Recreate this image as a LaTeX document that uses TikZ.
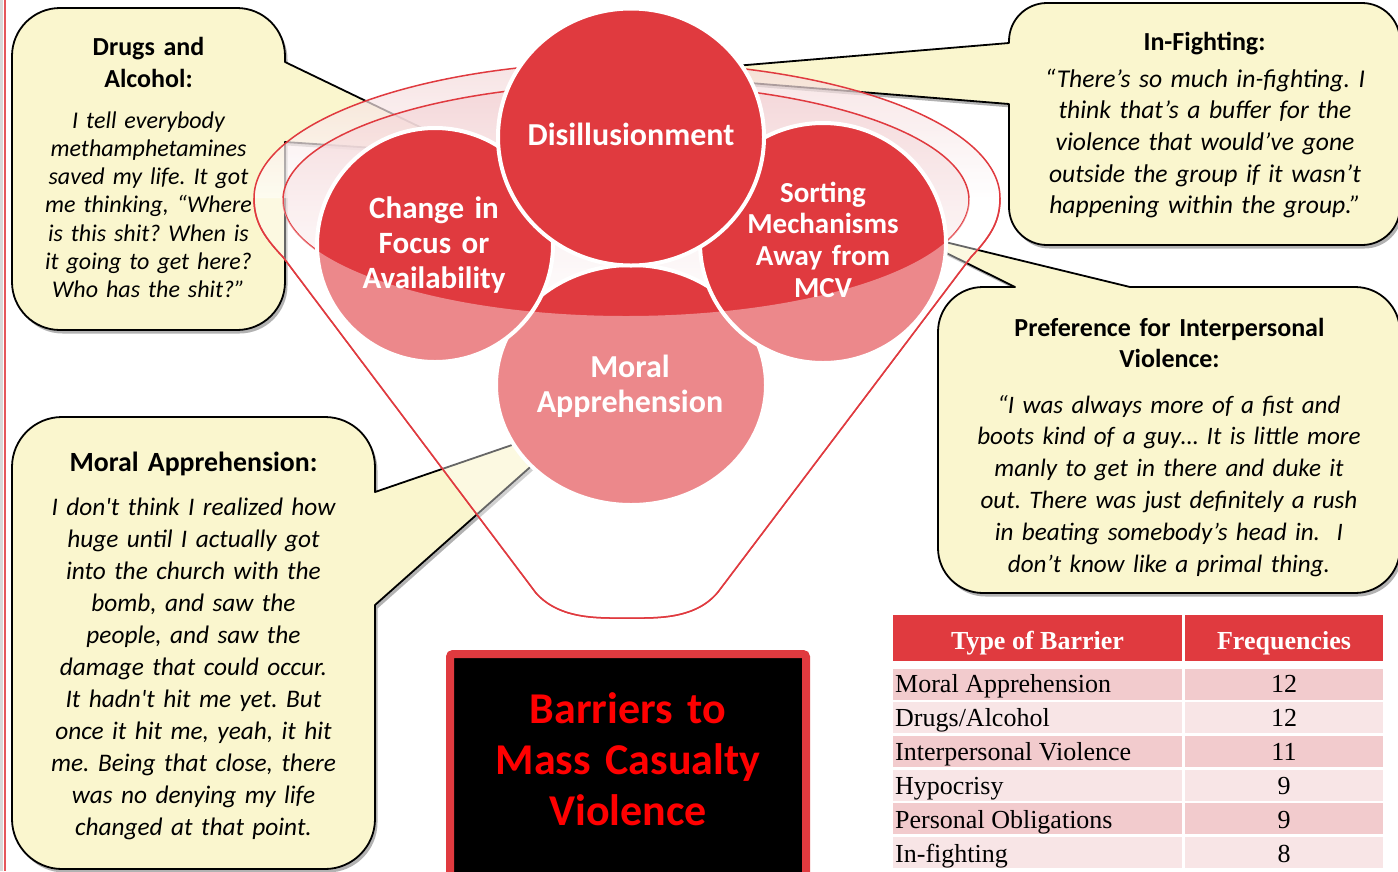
\documentclass[tikz,border=0pt]{standalone}
\usepackage{fontspec}
\setmainfont{Carlito}[Ligatures=TeXOff]
\newfontfamily\tnr{Liberation Serif}
\usetikzlibrary{shapes.geometric,shadows}
\definecolor{cred}{HTML}{E03A3F}
\definecolor{cyel}{HTML}{FAF6CE}
\definecolor{cband}{HTML}{F4D8D9}
\definecolor{cinner}{HTML}{F3D2D4}
\definecolor{rowA}{HTML}{F2CBCD}
\definecolor{rowB}{HTML}{F8E5E6}
\definecolor{brightred}{HTML}{FF0000}
\frenchspacing
\begin{document}
\begin{tikzpicture}[x=1pt,y=-1pt,
  callout/.style={fill=cyel,draw=black,line width=1.8pt,line join=round,
    drop shadow={shadow xshift=2.5pt,shadow yshift=-3.5pt,opacity=0.3,fill=black}},
  head/.style={font=\fontsize{26}{32}\selectfont\bfseries,align=center,text width=440pt,inner sep=0pt,anchor=base},
  body/.style={font=\fontsize{25.4}{31.8}\selectfont\itshape,align=center,text width=440pt,inner sep=0pt,anchor=base},
  bubble/.style={ellipse,fill=cred,draw=white,line width=4pt,inner sep=0pt},
  btext/.style={text=white,font=\fontsize{31}{35}\selectfont\bfseries,align=center,text width=260pt,inner sep=0pt,anchor=base},
  funline/.style={draw=cred,line width=1.5pt},
  cell/.style={anchor=north west,inner sep=0pt,outer sep=0pt},
  ttext/.style={font=\tnr\fontsize{26}{30}\selectfont,inner sep=0pt,anchor=base west},
  tnum/.style={font=\tnr\fontsize{26}{30}\selectfont,inner sep=0pt,anchor=base},
  thead/.style={font=\tnr\bfseries\fontsize{26}{30}\selectfont,text=white,inner sep=0pt,anchor=base},
]
\def\funnelpath{(254,198) arc[start angle=180,end angle=360,x radius=373,y radius=136] .. controls (1000,220) and (992,235) .. (971,257) -- (718,592) .. controls (695,620) and (655,618) .. (627,618) .. controls (600,618) and (560,620) .. (536,593) -- (283,257) .. controls (262,235) and (254,220) .. (254,198) -- cycle}
\useasboundingbox (0,0) rectangle (1398,871);
\fill[white] (0,0) rectangle (1398,871);
\draw[black!15,line width=3pt] (1.5,0) -- (1.5,871);
\draw[cred!85,line width=1.5pt] (5,0) -- (5,871);

% ---------- callouts ----------
\path[callout] (285,142) -- (285,282) .. controls (285,308.5) and (263.5,330) .. (237,330) -- (60,330) .. controls (33.5,330) and (12,308.5) .. (12,282) -- (12,56) .. controls (12,29.5) and (33.5,8) .. (60,8) -- (237,8) .. controls (263.5,8) and (285,29.5) .. (285,56) -- (285,62) -- (478,155) -- cycle;
\node[head] (drugsH) at (148.5,55) {Drugs and\\Alcohol:};
\node[body,font=\fontsize{24}{28.3}\selectfont\itshape] (drugsB) at (148.5,128) {I tell everybody\\methamphetamines\\saved my life. It got\\me thinking, “Where\\is this shit? When is\\it going to get here?\\Who has the shit?”};

\path[callout] (1009,104) -- (1009,207) .. controls (1009,228) and (1026,245) .. (1047,245) -- (1362,245) .. controls (1383,245) and (1400,228) .. (1400,207) -- (1400,41) .. controls (1400,20) and (1383,3) .. (1362,3) -- (1047,3) .. controls (1026,3) and (1009,20) .. (1009,41) -- (1009,43) -- (639,74) -- cycle;
\node[head] (infH) at (1204.5,50) {In-Fighting:};
\node[body,font=\fontsize{25.6}{31.7}\selectfont\itshape] (infB) at (1205,87) {“There’s so much in-fighting. I\\think that’s a buffer for the\\violence that would’ve gone\\outside the group if it wasn’t\\happening within the group.”};

\path[callout] (1130,287) -- (1355,287) .. controls (1379.9,287) and (1400,307.1) .. (1400,332) -- (1400,548) .. controls (1400,572.9) and (1379.9,593) .. (1355,593) -- (983,593) .. controls (958.1,593) and (938,572.9) .. (938,548) -- (938,332) .. controls (938,307.1) and (958.1,287) .. (983,287) -- (1015,287) -- (904,232) -- cycle;
\node[head,font=\fontsize{26}{31}\selectfont\bfseries] (prefH) at (1169.5,336) {Preference for Interpersonal\\Violence:};
\node[body,font=\fontsize{25.1}{31.8}\selectfont\itshape] (prefB) at (1169,413) {“I was always more of a fist and\\boots kind of a guy… It is little more\\manly to get in there and duke it\\out. There was just definitely a rush\\in beating somebody’s head in.\ \ I\\don’t know like a primal thing.};

\path[callout] (375,605) -- (375,819) .. controls (375,846.6) and (352.6,869) .. (325,869) -- (62,869) .. controls (34.4,869) and (12,846.6) .. (12,819) -- (12,467) .. controls (12,439.4) and (34.4,417) .. (62,417) -- (325,417) .. controls (352.6,417) and (375,439.4) .. (375,467) -- (375,492) -- (582,421) -- cycle;
\node[head,font=\fontsize{27.8}{32}\selectfont\bfseries] (morH) at (193.5,471) {Moral Apprehension:};
\node[body,font=\fontsize{25.3}{32}\selectfont\itshape] (morB) at (193.5,515) {I don't think I realized how\\huge until I actually got\\into the church with the\\bomb, and saw the\\people, and saw the\\damage that could occur.\\It hadn't hit me yet. But\\once it hit me, yeah, it hit\\me. Being that close, there\\was no denying my life\\changed at that point.};

% ---------- funnel back ----------
\shade[top color=cband,bottom color=white,fill opacity=0.7] (254,198) arc[start angle=180,end angle=360,x radius=373,y radius=136] -- cycle;
\shade[top color=cinner,bottom color=white,fill opacity=0.75] (626,200) ellipse[x radius=343,y radius=116];
\draw[funline] \funnelpath;
\draw[funline] (626,200) ellipse[x radius=343,y radius=116];

% ---------- circles ----------
\node[bubble,minimum width=270,minimum height=240] (mor) at (631,385) {};
\node[bubble,minimum width=236,minimum height=234] (chg) at (435,245) {};
\node[bubble,minimum width=246,minimum height=240] (srt) at (823,243) {};
\node[bubble,minimum width=266,minimum height=257] (dis) at (631,137) {};
\node[btext,font=\fontsize{32}{35}\selectfont\bfseries] (morT) at (630,377) {Moral\\Apprehension};
\node[btext] (chgT) at (434,218) {Change in\\Focus or\\Availability};
\node[btext,font=\fontsize{29}{31.7}\selectfont\bfseries] (srtT) at (823,202) {Sorting\\Mechanisms\\Away from\\MCV};
\node[btext,font=\fontsize{32}{35}\selectfont\bfseries] (disT) at (631,145) {Disillusionment};

% ---------- funnel front ----------
\begin{scope}
\clip (0,198) rectangle (1398,871);
\fill[white,fill opacity=0.4,even odd rule] \funnelpath (626,200) ellipse[x radius=343,y radius=116];
\end{scope}
\draw[funline] (1000,198) .. controls (1000,220) and (992,235) .. (971,257) -- (718,592) .. controls (695,620) and (655,618) .. (627,618) .. controls (600,618) and (560,620) .. (536,593) -- (283,257) .. controls (262,235) and (254,220) .. (254,198);

% ---------- title box ----------
\node[draw=cred,fill=black,line width=8pt,rounded corners=3pt,minimum width=356,minimum height=230,anchor=north west] (box) at (446,650) {};
\node[font=\fontsize{44}{51}\selectfont\bfseries,text=brightred,align=center,text width=350pt,inner sep=0pt,anchor=base] (boxT) at (628,723) {Barriers to\\Mass Casualty\\Violence};

% ---------- table ----------
\node[cell,fill=cred,minimum width=289,minimum height=46] (hA) at (893,615) {};
\node[cell,fill=cred,minimum width=198,minimum height=46] (hB) at (1185,615) {};
\node[thead] (hAt) at (1037.5,649) {Type of Barrier};
\node[thead] (hBt) at (1284,649) {Frequencies};
\foreach \i/\nm/\num/\col in {0/{Moral Apprehension}/12/rowA,1/{Drugs\slash Alcohol}/12/rowB,2/{Interpersonal Violence}/11/rowA,3/Hypocrisy/9/rowB,4/{Personal Obligations}/9/rowA,5/In-fighting/8/rowB}{
  \node[cell,fill=\col,minimum width=289,minimum height=31] (ra\i) at (893,668.5+33.7*\i) {};
  \node[cell,fill=\col,minimum width=198,minimum height=31] (rb\i) at (1185,668.5+33.7*\i) {};
  \node[ttext] (ta\i) at (895,692+34*\i) {\nm};
  \node[tnum] (tb\i) at (1284,692+34*\i) {\num};
}
\end{tikzpicture}
\end{document}
